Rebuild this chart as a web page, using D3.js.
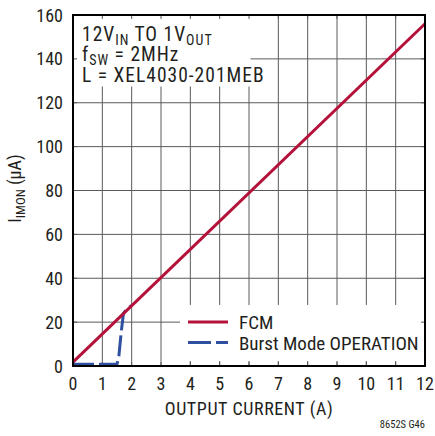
<!DOCTYPE html>
<html lang="en">
<head>
<meta charset="UTF-8">
<title>IMON vs Output Current</title>
<script src="https://d3js.org/d3.v7.min.js"></script>
<style>
  body { margin: 0; background: #fff; }
  text { font-family: "Liberation Sans Narrow", "Roboto Condensed", "Liberation Sans", Arial, sans-serif; fill: #231f20; }
</style>
</head>
<body>
<div id="chart"></div>
<script>
  // data
  const xTicks = d3.range(0, 13);
  const yTicks = d3.range(0, 161, 20);
  const fcmCurrent = [0, 12];
  const fcmImon = [1.8, 156];
  const burstCurrent = [0, 0.5, 1.0, 1.5, 1.56, 1.64, 1.72, 1.85, 2.0];
  const burstImon = [0.8, 0.8, 0.8, 0.9, 4, 15, 24, 26.3, 27.6];

  const margin = { top: 15, right: 10, bottom: 70, left: 73 };
  const W = 435, H = 436;
  const width = W - margin.left - margin.right;
  const height = H - margin.top - margin.bottom;

  const svg = d3.select("#chart").append("svg")
    .attr("width", W).attr("height", H);
  const g = svg.append("g").attr("transform", `translate(${margin.left},${margin.top})`);

  const x = d3.scaleLinear().domain([0, 12]).range([0, width]);
  const y = d3.scaleLinear().domain([0, 160]).range([height, 0]);

  // grid
  g.append("g").selectAll("line").data(xTicks.slice(1, -1)).enter().append("line")
    .attr("x1", d => x(d)).attr("x2", d => x(d))
    .attr("y1", 0).attr("y2", height)
    .attr("stroke", "#5a5a5a").attr("stroke-width", 1);
  g.append("g").selectAll("line").data(yTicks.slice(1, -1)).enter().append("line")
    .attr("x1", 0).attr("x2", width)
    .attr("y1", d => y(d)).attr("y2", d => y(d))
    .attr("stroke", "#5a5a5a").attr("stroke-width", 1);

  // white boxes behind annotation and legend
  g.append("rect").attr("x", 0.5).attr("y", 0.5).attr("width", 177).attr("height", 71).attr("fill", "#fff");
  g.append("rect").attr("x", 107).attr("y", 290).attr("width", width - 108).attr("height", 56).attr("fill", "#fff");

  // short inward ticks on every edge
  const tk = 4;
  const edgeTicks = g.append("g").attr("stroke", "#5a5a5a");
  xTicks.slice(1, -1).forEach(d => {
    edgeTicks.append("line").attr("x1", x(d)).attr("x2", x(d)).attr("y1", 0).attr("y2", tk);
    edgeTicks.append("line").attr("x1", x(d)).attr("x2", x(d)).attr("y1", height - tk).attr("y2", height);
  });
  yTicks.slice(1, -1).forEach(d => {
    edgeTicks.append("line").attr("x1", 0).attr("x2", tk).attr("y1", y(d)).attr("y2", y(d));
    edgeTicks.append("line").attr("x1", width - tk).attr("x2", width).attr("y1", y(d)).attr("y2", y(d));
  });

  const line = d3.line().x(d => x(d[0])).y(d => y(d[1]));

  g.append("path")
    .datum(burstCurrent.map((c, i) => [c, burstImon[i]]))
    .attr("d", line)
    .attr("fill", "none").attr("stroke", "#2f4fa0").attr("stroke-width", 3)
    .attr("stroke-dasharray", "21,5");

  g.append("path")
    .datum(fcmCurrent.map((c, i) => [c, fcmImon[i]]))
    .attr("d", line)
    .attr("fill", "none").attr("stroke", "#b5123a").attr("stroke-width", 3);

  // frame
  g.append("rect").attr("width", width).attr("height", height)
    .attr("fill", "none").attr("stroke", "#000").attr("stroke-width", 2);

  // tick labels
  g.append("g").selectAll("text").data(xTicks).enter().append("text")
    .attr("x", d => x(d)).attr("y", height + 24)
    .attr("text-anchor", "middle").style("font-size", "18px")
    .text(d => d);
  g.append("g").selectAll("text").data(yTicks).enter().append("text")
    .attr("x", -10).attr("y", d => y(d) + 6.5)
    .attr("text-anchor", "end").style("font-size", "18px")
    .text(d => d);

  // axis titles
  g.append("text").attr("x", width / 2).attr("y", height + 49)
    .attr("text-anchor", "middle").style("font-size", "18px").style("letter-spacing", "0.6px")
    .text("OUTPUT CURRENT (A)");
  const yt = svg.append("text")
    .attr("transform", `translate(21,${margin.top + height / 2 - 2}) rotate(-90)`)
    .attr("text-anchor", "middle").style("font-size", "18px");
  yt.append("tspan").text("I");
  yt.append("tspan").attr("dy", 4).style("font-size", "13px").text("IMON");
  yt.append("tspan").attr("dy", -4).text(" (μA)");

  // annotation
  const ann = g.append("g").attr("transform", "translate(9,0)")
    .style("font-size", "19.5px").style("letter-spacing", "1px");
  const a1 = ann.append("text").attr("y", 26);
  a1.append("tspan").text("12V");
  a1.append("tspan").attr("dy", 4).style("font-size", "14px").text("IN");
  a1.append("tspan").attr("dy", -4).text(" TO 1V");
  a1.append("tspan").attr("dy", 4).style("font-size", "14px").text("OUT");
  const a2 = ann.append("text").attr("y", 46);
  a2.append("tspan").text("f");
  a2.append("tspan").attr("dy", 4).style("font-size", "14px").text("SW");
  a2.append("tspan").attr("dy", -4).text(" = 2MHz");
  ann.append("text").attr("y", 67).text("L = XEL4030-201MEB");

  // legend
  const legendItems = ["FCM", "Burst Mode OPERATION"];
  const legendColors = ["#b5123a", "#2f4fa0"];
  const legend = g.selectAll(".legend").data(legendItems).enter().append("g")
    .attr("transform", (d, i) => `translate(115,${307 + i * 20.5})`);
  legend.append("line").attr("x1", 0).attr("x2", 40)
    .attr("stroke", (d, i) => legendColors[i]).attr("stroke-width", 3)
    .attr("stroke-dasharray", (d, i) => i ? "23,5" : null);
  legend.append("text").attr("x", 51).attr("y", 7).style("font-size", "19px").text(d => d);

  svg.append("text").attr("x", 425).attr("y", 428).attr("text-anchor", "end")
    .style("font-size", "10.5px").text("8652S G46");
</script>
</body>
</html>
